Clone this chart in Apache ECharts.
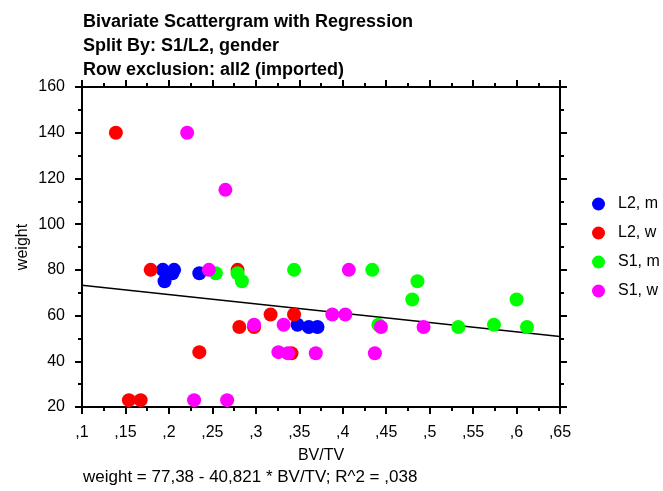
<!DOCTYPE html>
<html>
<head>
<meta charset="utf-8">
<script src="https://cdn.jsdelivr.net/npm/echarts@6/dist/echarts.min.js"></script>
<style>
  html, body { margin: 0; padding: 0; background: #fff; }
  #chart { width: 663px; height: 491px; }
</style>
</head>
<body>
<div id="chart"></div>
<script>
// data  [BV/TV, weight]
let seriesNames = ['L2, m', 'L2, w', 'S1, m', 'S1, w'];
let seriesColors = ['#0000ff', '#ff0000', '#00ff00', '#ff00ff'];

let l2Men = [
    [0.193, 80], [0.195, 75], [0.204, 78.5], [0.206, 80], [0.235, 78.5],
    [0.348, 56], [0.361, 55], [0.371, 55]
];
let l2Women = [
    [0.139, 140], [0.154, 23], [0.1675, 23], [0.179, 80], [0.235, 44],
    [0.279, 80], [0.281, 55], [0.298, 55], [0.317, 60.5], [0.344, 60.5], [0.341, 43.5]
];
let s1Men = [
    [0.254, 78.5], [0.279, 78.5], [0.284, 75], [0.344, 80], [0.434, 80], [0.441, 56],
    [0.480, 67], [0.486, 75], [0.533, 55], [0.574, 56], [0.600, 67], [0.612, 55]
];
let s1Women = [
    [0.221, 140], [0.229, 23], [0.246, 80], [0.265, 115], [0.267, 23], [0.298, 56],
    [0.326, 44], [0.332, 56], [0.337, 43.5], [0.369, 43.5], [0.388, 60.5], [0.403, 60.5],
    [0.407, 80], [0.437, 43.5], [0.444, 55], [0.493, 55]
];

// regression: weight = 77,38 - 40,821 * BV/TV
let regIntercept = 77.38;
let regSlope = -40.821;
let xRange = [0.1, 0.65];
let yRange = [20, 160];

let titleLines = [
    'Bivariate Scattergram with Regression',
    'Split By: S1/L2, gender',
    'Row exclusion: all2 (imported)'
];
let captionText = 'weight = 77,38 - 40,821 * BV/TV; R^2 = ,038';

let fontName = 'Liberation Sans, Arial, sans-serif';

// ,15 style labels (comma decimal, no leading zero)
function fmtX(v) {
    let s = String(Math.round(v * 100) / 100);
    return s.replace('0.', ',');
}

let myChart = echarts.init(document.getElementById('chart'), null, {renderer: 'canvas'});

let groups = [l2Men, l2Women, s1Men, s1Women];
let scatterSeries = groups.map((g, i) => ({
    name: seriesNames[i],
    type: 'scatter',
    data: g,
    symbol: 'circle',
    symbolSize: 14,
    itemStyle: { color: seriesColors[i], opacity: 1 },
    z: 3
}));

let regLine = {
    type: 'line',
    data: xRange.map(x => [x, regIntercept + regSlope * x]),
    showSymbol: false,
    symbol: 'none',
    lineStyle: { color: '#000', width: 1.5 },
    z: 2,
    silent: true
};

let tickCommon = {
    axisLine: { show: true, lineStyle: { color: '#000', width: 2 } },
    axisTick: { show: true, inside: false, length: 7, lineStyle: { color: '#000', width: 2 } },
    minorTick: { show: true, splitNumber: 2, length: 4, lineStyle: { color: '#000', width: 2 } },
    splitLine: { show: false },
    minorSplitLine: { show: false }
};

option = {
    animation: false,
    backgroundColor: '#fff',
    textStyle: { fontFamily: fontName },
    title: {
        text: titleLines.join('\n'),
        left: 78,
        top: 5,
        textStyle: { fontFamily: fontName, fontSize: 18, fontWeight: 'bold', color: '#000', lineHeight: 24 }
    },
    legend: {
        data: seriesNames,
        orient: 'vertical',
        left: 587,
        top: 191,
        itemWidth: 13,
        itemHeight: 13,
        itemGap: 13,
        icon: 'circle',
        textStyle: { fontFamily: fontName, fontSize: 16, color: '#000', padding: [0, 0, 0, 8] }
    },
    grid: { left: 82, right: 103, top: 87, bottom: 84 },
    xAxis: [
        Object.assign({
            type: 'value',
            position: 'bottom',
            min: xRange[0],
            max: xRange[1],
            interval: 0.05,
            name: 'BV/TV',
            nameLocation: 'middle',
            nameGap: 41,
            nameMoveOverlap: false,
            nameTextStyle: { fontFamily: fontName, fontSize: 16, color: '#000' },
            axisLabel: { fontFamily: fontName, fontSize: 16, color: '#000', margin: 18, formatter: fmtX }
        }, tickCommon),
        Object.assign({
            type: 'value',
            position: 'top',
            min: xRange[0],
            max: xRange[1],
            interval: 0.05,
            axisLabel: { show: false }
        }, tickCommon)
    ],
    yAxis: [
        Object.assign({
            type: 'value',
            position: 'left',
            min: yRange[0],
            max: yRange[1],
            interval: 20,
            name: 'weight',
            nameLocation: 'middle',
            nameGap: 51,
            nameMoveOverlap: false,
            nameTextStyle: { fontFamily: fontName, fontSize: 16, color: '#000' },
            axisLabel: { fontFamily: fontName, fontSize: 16, color: '#000', margin: 17 }
        }, tickCommon),
        Object.assign({
            type: 'value',
            position: 'right',
            min: yRange[0],
            max: yRange[1],
            interval: 20,
            axisLabel: { show: false }
        }, tickCommon)
    ],
    graphic: [{
        type: 'text',
        left: 83,
        top: 469,
        style: { text: captionText, fontFamily: fontName, fontSize: 17, fill: '#000' }
    }],
    series: [regLine].concat(scatterSeries)
};

myChart.setOption(option);
</script>
</body>
</html>
